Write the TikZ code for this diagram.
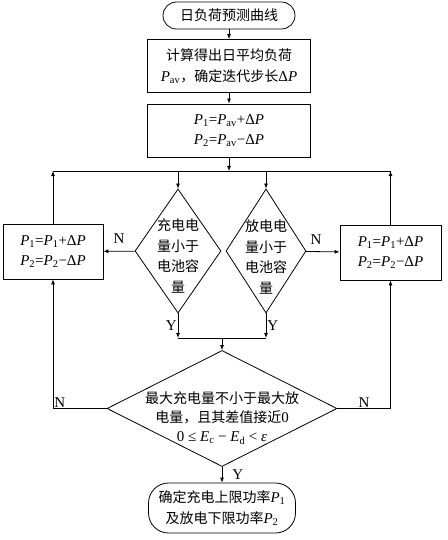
\documentclass[tikz,border=0pt]{standalone}
\usepackage{fontspec}
\setmainfont{Liberation Serif}[Scale=1.07]
\newfontfamily\cjk{Noto Sans CJK SC}
\usetikzlibrary{arrows.meta,shapes.geometric}
\newcommand\zh[1]{{\cjk #1}}
\newcommand\vP{\textit{P}}
\newcommand\vE{\textit{E}}
\newcommand\sbs[1]{\textsubscript{#1}}
\begin{document}
\begin{tikzpicture}[x=1pt,y=-1pt,line width=0.8pt,
  txtfont/.style={font=\fontsize{14}{20.5}\selectfont},
  box/.style={draw,rectangle,txtfont,align=center,inner sep=0pt},
  term/.style={draw,rectangle,txtfont,align=center,inner sep=0pt},
  dia/.style={draw,diamond,inner sep=0pt},
  dtext/.style={txtfont,align=center,inner sep=0pt},
  arr/.style={-{Latex[length=5pt,width=4pt]}},
  lab/.style={font=\fontsize{14}{16}\selectfont,inner sep=1pt}]
\useasboundingbox (0,0) rectangle (447,540);

\node[term,rounded corners=13.5pt,minimum width=132,minimum height=27] (start) at (229,15.5) {\zh{日负荷预测曲线}};
\node[box,minimum width=163,minimum height=53] (b2) at (229,66) {\zh{计算得出日平均负荷}\\\vP\sbs{av}\zh{，确定迭代步长}Δ\vP};
\node[box,minimum width=163,minimum height=53] (b3) at (229,130.5) {\vP\sbs{1}=\vP\sbs{av}+Δ\vP\\\vP\sbs{2}=\vP\sbs{av}−Δ\vP};

\coordinate (jt) at (229,171);
\coordinate (jb) at (222,338);

\node[dia,minimum width=86,minimum height=124] (d1) at (178,251) {};
\node[dtext] (d1t) at (178,256) {\zh{充电电}\\\zh{量小于}\\\zh{电池容}\\\zh{量}};
\node[dia,minimum width=80,minimum height=124] (d2) at (266,251) {};
\node[dtext] (d2t) at (266,257) {\zh{放电电}\\\zh{量小于}\\\zh{电池容}\\\zh{量}};

\node[box,minimum width=100,minimum height=55] (L) at (53,251.5) {\vP\sbs{1}=\vP\sbs{1}+Δ\vP\\\vP\sbs{2}=\vP\sbs{2}−Δ\vP};
\node[box,minimum width=101,minimum height=55] (R) at (390.5,252.5) {\vP\sbs{1}=\vP\sbs{1}+Δ\vP\\\vP\sbs{2}=\vP\sbs{2}−Δ\vP};

\node[dia,minimum width=230,minimum height=116] (d3) at (222,408.5) {};
\node[dtext,font=\fontsize{14}{19}\selectfont] (d3t) at (222,418) {\zh{最大充电量不小于最大放}\\\zh{电量，且其差值接近}0\\0 ≤ \vE\sbs{c} − \vE\sbs{d} < \textit{ε}};

\node[term,rounded corners=20pt,minimum width=147,minimum height=50] (end) at (222,508) {\zh{确定充电上限功率}\vP\sbs{1}\\\zh{及放电下限功率}\vP\sbs{2}};

\draw[arr] (start) -- (b2);
\draw[arr] (b2) -- (b3);
\draw[arr] (b3) -- (jt);
\draw (L.north |- jt) -- (R.north |- jt);
\draw[arr] (L) -- (L.north |- jt);
\draw[arr] (R) -- (R.north |- jt);
\draw[arr] (d1.north |- jt) -- (d1);
\draw[arr] (d2.north |- jt) -- (d2);
\draw[arr] (d1) -- node[lab,above=6pt] (n1) {N} (L);
\draw[arr] (d2) -- node[lab,above=6pt,pos=0.3] (n2) {N} (R);
\draw[arr] (d1) -- node[lab,left] (y1) {Y} (d1.south |- jb);
\draw[arr] (d2) -- node[lab,right] (y2) {Y} (d2.south |- jb);
\draw (d1.south |- jb) -- (d2.south |- jb);
\draw[arr] (jb) -- (d3);
\draw[arr] (d3) -| node[lab,pos=0.5,anchor=south west] (n3) {N} (L);
\draw[arr] (d3) -| node[lab,pos=0.25,above] (n4) {N} (R);
\draw[arr] (d3) -- node[lab,right=9pt] (y3) {Y} (end);
\end{tikzpicture}
\end{document}
